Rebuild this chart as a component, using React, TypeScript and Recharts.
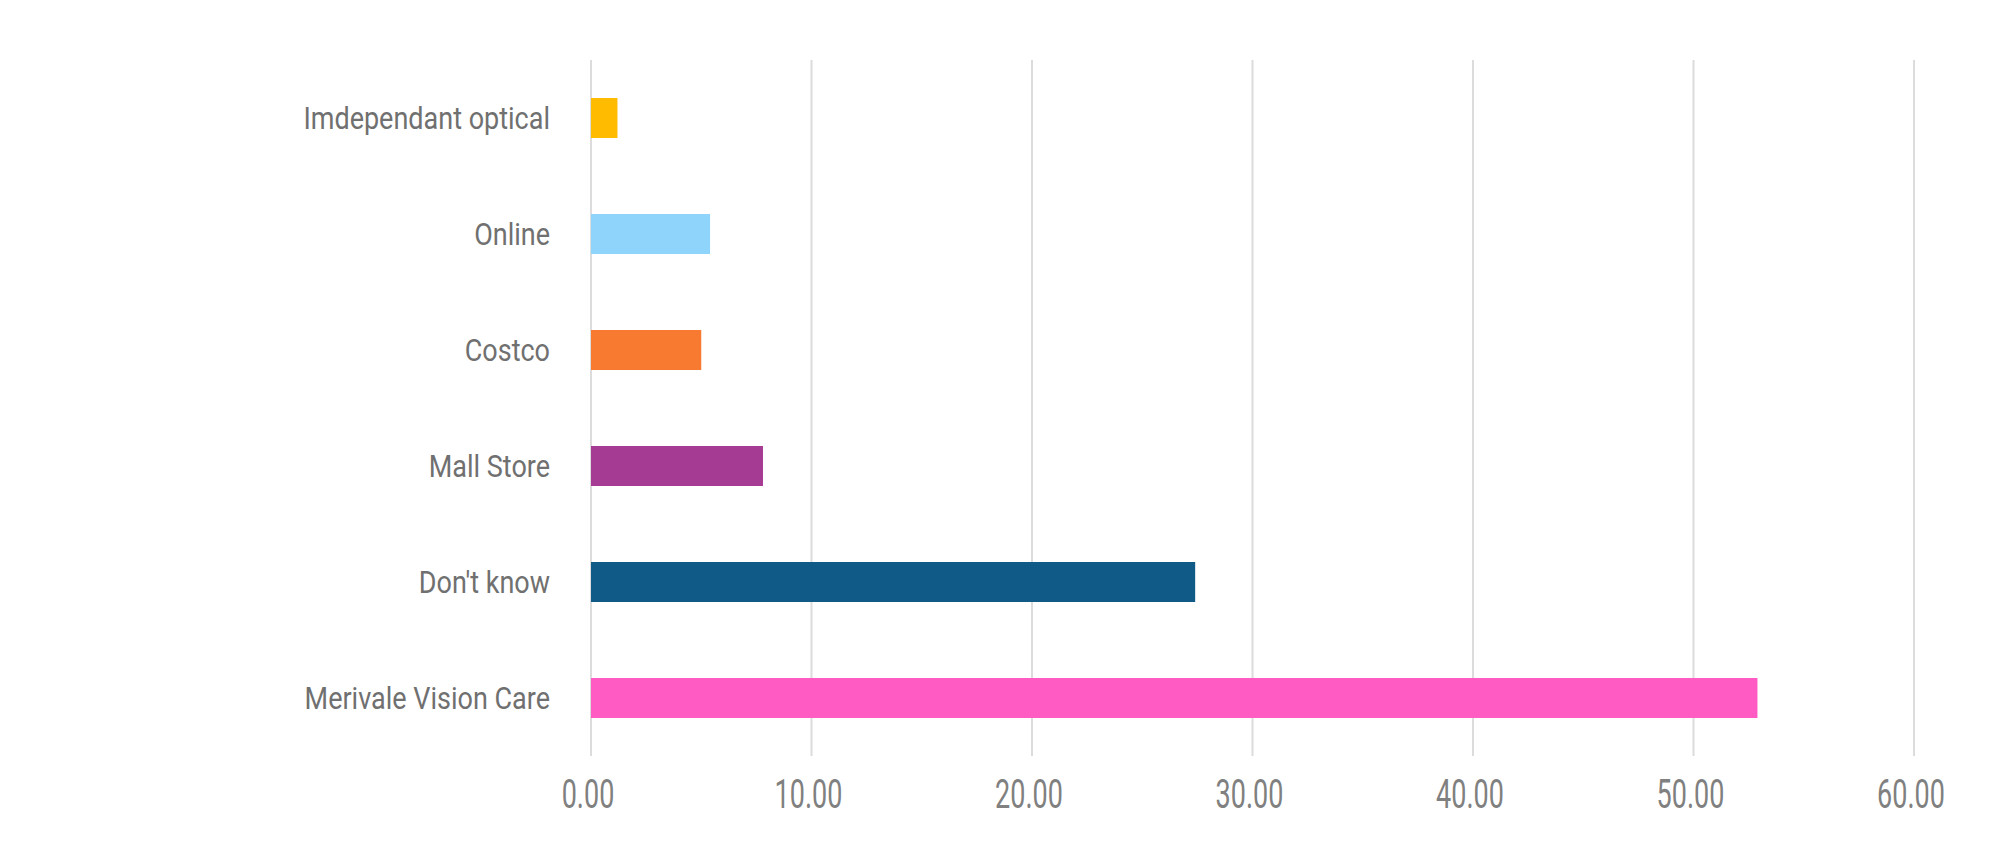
import { Bar, BarChart, CartesianGrid, Cell, XAxis, YAxis } from "recharts";

const categories = [
  "Imdependant optical",
  "Online",
  "Costco",
  "Mall Store",
  "Don't know",
  "Merivale Vision Care",
];
const values = [1.2, 5.4, 5.0, 7.8, 27.4, 52.9];
const colors = ["#ffbb00", "#8fd4fb", "#f77a30", "#a63b94", "#0f5a86", "#ff5bc2"];
const xTicks = [0, 10, 20, 30, 40, 50, 60];

const rows = categories.map((name, i) => ({ name, value: values[i] }));

function YTick({ x, y, payload }: any) {
  return (
    <g transform={`translate(${x},${y})`}>
      <text
        transform="scale(1,1.17)"
        textAnchor="end"
        dy="0.36em"
        fontFamily="Roboto"
        fontSize={27}
        fill="#707070"
      >
        {payload.value}
      </text>
    </g>
  );
}

function XTick({ x, y, payload }: any) {
  return (
    <g transform={`translate(${x - 3},${y + 29})`}>
      <text
        transform="scale(1,1.5)"
        textAnchor="middle"
        dy="0.36em"
        fontFamily="Roboto"
        fontSize={27}
        fill="#808080"
      >
        {Number(payload.value).toFixed(2)}
      </text>
    </g>
  );
}

export default function App() {
  return (
    <div style={{ width: 1990, height: 840, background: "#fff" }}>
      <BarChart
        width={1990}
        height={840}
        data={rows}
        layout="vertical"
        margin={{ top: 52, right: 84, bottom: 32, left: 0 }}
      >
        <CartesianGrid horizontal={false} stroke="#dcdcdc" strokeWidth={2} />
        <XAxis
          type="number"
          domain={[0, 60]}
          ticks={xTicks}
          axisLine={false}
          tickLine={false}
          height={60}
          tick={<XTick />}
        />
        <YAxis
          type="category"
          dataKey="name"
          width={583}
          axisLine={false}
          tickLine={false}
          tickMargin={35}
          tick={<YTick />}
        />
        <Bar dataKey="value" barSize={40} isAnimationActive={false}>
          {rows.map((r, i) => (
            <Cell key={r.name} fill={colors[i]} />
          ))}
        </Bar>
      </BarChart>
    </div>
  );
}
